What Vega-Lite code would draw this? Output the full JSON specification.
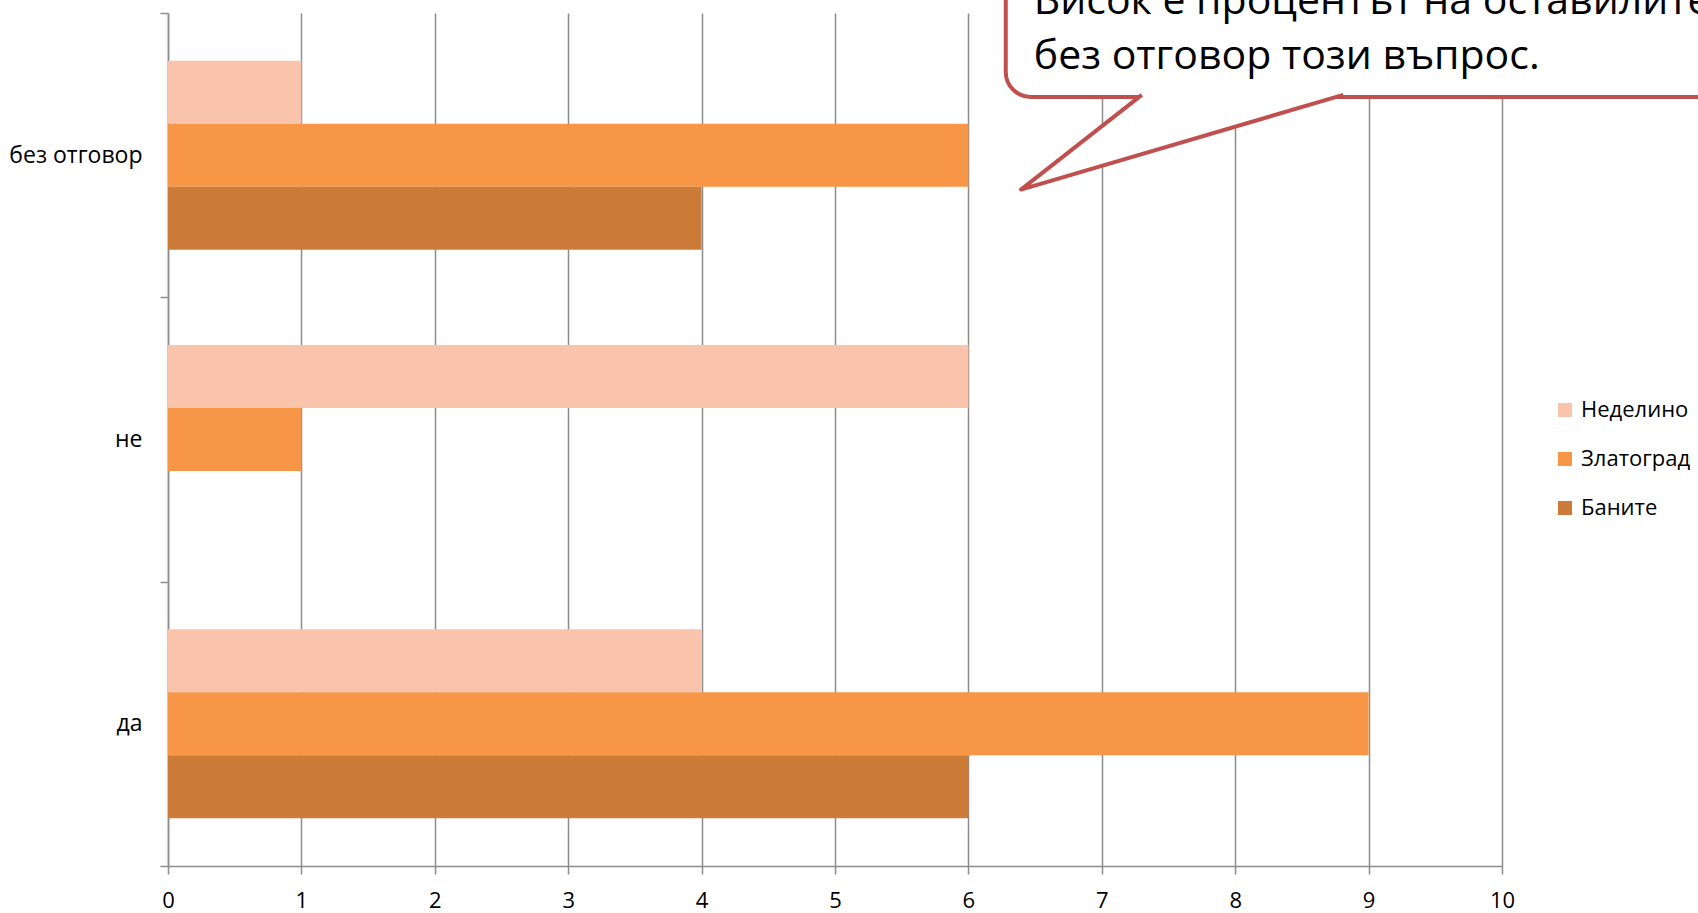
{
  "$schema": "https://vega.github.io/schema/vega-lite/v6.json",
  "width": 1334,
  "height": 853,
  "autosize": {"type": "none"},
  "padding": {"left": 168, "top": 13, "right": 196, "bottom": 47},
  "background": "white",
  "config": {
    "view": {"stroke": null},
    "font": "Open Sans",
    "axis": {"labelFont": "Open Sans", "labelColor": "#000000", "labelFontSize": 22, "titleFont": "Open Sans"},
    "legend": {"labelFont": "Open Sans", "labelColor": "#000000"}
  },
  "datasets": {
    "bars": [
      {"answer": "без отговор", "town": "Неделино", "value": 1},
      {"answer": "без отговор", "town": "Златоград", "value": 6},
      {"answer": "без отговор", "town": "Баните", "value": 4},
      {"answer": "не", "town": "Неделино", "value": 6},
      {"answer": "не", "town": "Златоград", "value": 1},
      {"answer": "да", "town": "Неделино", "value": 4},
      {"answer": "да", "town": "Златоград", "value": 9},
      {"answer": "да", "town": "Баните", "value": 6}
    ],
    "bubble": [
      {"x1": 6.28, "x2": 12.5, "y1": -0.25, "y2": 0.295}
    ],
    "pointer": [
      {"order": 1, "px": 7.30, "py": 0.288},
      {"order": 2, "px": 6.394, "py": 0.621},
      {"order": 3, "px": 8.81, "py": 0.288}
    ],
    "note": [
      {"tx": 6.49, "ty": 0.005, "label": "Висок е процентът на оставилите\nбез отговор този въпрос."}
    ]
  },
  "resolve": {"scale": {"y": "independent"}, "axis": {"y": "independent"}},
  "layer": [
    {
      "data": {"name": "bars"},
      "mark": {"type": "bar"},
      "encoding": {
        "y": {
          "field": "answer",
          "type": "nominal",
          "sort": ["без отговор", "не", "да"],
          "scale": {"paddingInner": 0, "paddingOuter": 0},
          "axis": {
            "title": null,
            "tickBand": "extent",
            "tickSize": 8,
            "tickWidth": 1.5,
            "tickColor": "#8c8c8c",
            "domainColor": "#8c8c8c",
            "domainWidth": 1.5,
            "labelPadding": 18,
            "labelFontSize": 23,
            "grid": false
          }
        },
        "yOffset": {
          "field": "town",
          "type": "nominal",
          "scale": {"domain": ["Неделино", "Златоград", "Баните"], "paddingInner": 0, "paddingOuter": 0.757}
        },
        "x": {
          "field": "value",
          "type": "quantitative",
          "scale": {"domain": [0, 10], "nice": false},
          "axis": {
            "title": null,
            "values": [0, 1, 2, 3, 4, 5, 6, 7, 8, 9, 10],
            "format": "d",
            "labelFlush": false,
            "labelOverlap": false,
            "grid": true,
            "gridColor": "#8c8c8c",
            "gridWidth": 1.5,
            "tickColor": "#8c8c8c",
            "tickWidth": 1.5,
            "tickSize": 8,
            "domainColor": "#8c8c8c",
            "domainWidth": 1.5,
            "labelPadding": 16,
            "labelFontSize": 22
          }
        },
        "color": {
          "field": "town",
          "type": "nominal",
          "scale": {"domain": ["Неделино", "Златоград", "Баните"], "range": ["#F9C4AB", "#F79646", "#CC7B38"]},
          "legend": {
            "title": null,
            "orient": "none",
            "legendX": 1386,
            "legendY": 386,
            "symbolType": "square",
            "symbolSize": 196,
            "symbolStrokeWidth": 0,
            "labelFontSize": 22,
            "labelOffset": 5,
            "rowPadding": 27
          }
        }
      }
    },
    {
      "data": {"name": "bubble"},
      "mark": {"type": "rect", "fill": "white", "stroke": "#C0504D", "strokeWidth": 4, "cornerRadius": 25},
      "encoding": {
        "x": {"field": "x1", "type": "quantitative", "scale": {"domain": [0, 10], "nice": false}},
        "x2": {"field": "x2"},
        "y": {"field": "y1", "type": "quantitative", "scale": {"domain": [0, 3], "reverse": true, "nice": false, "zero": false}, "axis": null},
        "y2": {"field": "y2"}
      }
    },
    {
      "data": {"name": "pointer"},
      "mark": {"type": "line", "fill": "white", "stroke": "#C0504D", "strokeWidth": 4, "strokeJoin": "round"},
      "encoding": {
        "x": {"field": "px", "type": "quantitative", "scale": {"domain": [0, 10], "nice": false}},
        "y": {"field": "py", "type": "quantitative", "scale": {"domain": [0, 3], "reverse": true, "nice": false, "zero": false}, "axis": null},
        "order": {"field": "order", "type": "quantitative"}
      }
    },
    {
      "data": {"name": "note"},
      "mark": {"type": "text", "align": "left", "baseline": "alphabetic", "fontSize": 41, "font": "Open Sans", "color": "#000000", "lineBreak": "\n", "lineHeight": 55},
      "encoding": {
        "x": {"field": "tx", "type": "quantitative", "scale": {"domain": [0, 10], "nice": false}},
        "y": {"field": "ty", "type": "quantitative", "scale": {"domain": [0, 3], "reverse": true, "nice": false, "zero": false}, "axis": null},
        "text": {"field": "label"}
      }
    }
  ]
}
